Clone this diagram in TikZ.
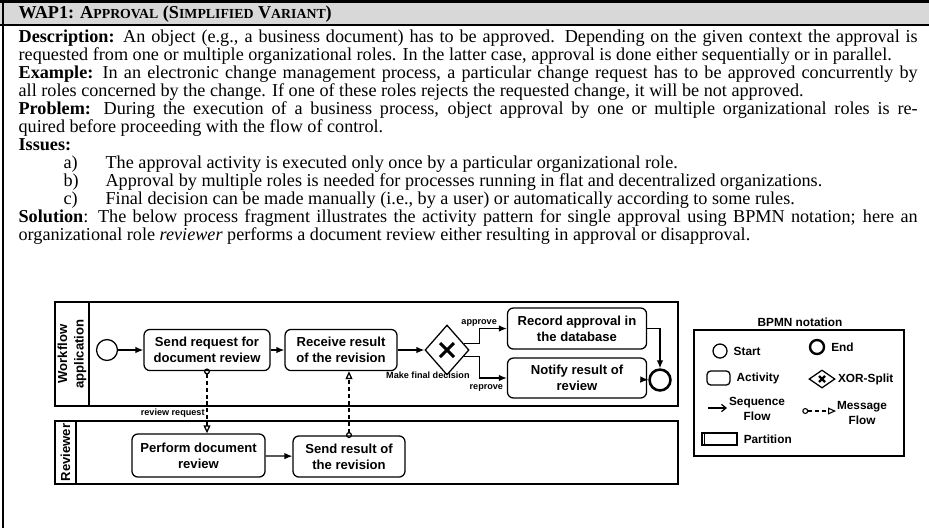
\documentclass[tikz,border=0pt]{standalone}
\usepackage{fontspec}
\setmainfont{Liberation Serif}
\newfontfamily\arialfont{Liberation Sans}
\usetikzlibrary{arrows.meta,shapes.geometric,positioning,calc}
\setlength{\parindent}{0pt}
\newcommand\smcap[1]{{\fontsize{7.6}{9}\selectfont #1}}
\newcommand\bodyfont{\fontsize{10}{9.9}\selectfont}
\newcommand\boxfont{\arialfont\bfseries\fontsize{7.2}{9}\selectfont}
\newcommand\lanefont{\arialfont\bfseries\fontsize{7.2}{9}\selectfont}
\newcommand\lblfont{\arialfont\bfseries\fontsize{5}{6}\selectfont}
\newcommand\legfont{\arialfont\bfseries\fontsize{6.5}{7.9}\selectfont}
\definecolor{headgray}{RGB}{216,216,216}
\tikzset{
  every picture/.style={
    line width=0.7pt, x=0.55pt, y=-0.55pt,
    >={Latex[width=3.6pt, length=4.4pt]}
  },
  bodytext/.style={
    anchor=north west, text width=494.5pt, align=justify,
    inner sep=0pt, font=\bodyfont
  },
  lane/.style={line width=0.85pt},
  lanelbl/.style={rotate=90, align=center, font=\lanefont, inner sep=0pt},
  task/.style={
    draw, rounded corners=3.3pt, align=center, font=\boxfont,
    inner sep=0pt, minimum height=22.6pt
  },
  startev/.style={draw, circle, minimum size=11.5pt, inner sep=0pt},
  endev/.style={draw, circle, line width=1.4pt, minimum size=11.5pt, inner sep=0pt},
  gateway/.style={
    draw, diamond, minimum width=24.2pt, minimum height=27.5pt,
    inner sep=0pt
  },
  xmark/.style={line width=1.6pt},
  seq/.style={->},
  msg/.style={
    dash pattern=on 2.2pt off 1.6pt, shorten <=-1.5pt,
    {Circle[open, length=3.3pt, width=3.3pt]}-{Triangle[open, length=4.4pt, width=3.8pt]}
  },
  lbl/.style={font=\lblfont, inner sep=1pt},
  legtxt/.style={font=\legfont, inner sep=0pt}
}
\begin{document}
\begin{tikzpicture}
  \useasboundingbox (0,0) rectangle (929,528);
  % table frame
  \fill[headgray] (0,3) rectangle (929,24);
  \draw[line width=1.6pt] (0,1.5) -- (929,1.5);
  \draw[line width=1.2pt] (0,25) -- (929,25);
  \draw[line width=1.6pt] (3,0) -- (3,528);
  \node[anchor=base west, font=\bfseries, inner sep=0pt] (title) at (18,18)
    {WAP1: A\smcap{PPROVAL} (S\smcap{IMPLIFIED} V\smcap{ARIANT})};
  \node[bodytext] (body) at (18,29) {%
    \textbf{Description:} An object (e.g., a business document) has to be approved. Depending on the given context the approval is\linebreak
    requested from one or multiple organizational roles. In the latter case, approval is done either sequentially or in parallel.\par
    \textbf{Example:} In an electronic change management process, a particular change request has to be approved concurrently by\linebreak
    all roles concerned by the change. If one of these roles rejects the requested change, it will be not approved.\par
    \textbf{Problem:} During the execution of a business process, object approval by one or multiple organizational roles is re-\linebreak
    quired before proceeding with the flow of control.\par
    \textbf{Issues:}\par
    \hspace*{24.75pt}\makebox[23.1pt][l]{a)}The approval activity is executed only once by a particular organizational role.\par
    \hspace*{24.75pt}\makebox[23.1pt][l]{b)}Approval by multiple roles is needed for processes running in flat and decentralized organizations.\par
    \hspace*{24.75pt}\makebox[23.1pt][l]{c)}Final decision can be made manually (i.e., by a user) or automatically according to some rules.\par
    \textbf{Solution}: The below process fragment illustrates the activity pattern for single approval using BPMN notation; here an\linebreak
    organizational role \textit{reviewer} performs a document review either resulting in approval or disapproval.};

  % pools and lanes
  \draw[lane] (55,302) rectangle (678,406);
  \draw[lane] (89,302) -- (89,406);
  \draw[lane] (55,421) rectangle (678,484);
  \draw[lane] (76,421) -- (76,484);
  \node[lanelbl] (wflane) at (72,354) {Workflow\\application};
  \node[lanelbl] (rvlane) at (65.5,452.5) {Reviewer};

  % process
  \node[startev] (start) at (107,350) {};
  \node[task, minimum width=69.3pt] (sendreq) at (207,350) {Send request for\\document review};
  \node[task, minimum width=61.6pt] (recv) at (341,350) {Receive result\\of the revision};
  \node[gateway, label={[lbl, label distance=-3.5pt, xshift=-10.5pt]below:Make final decision}] (gw) at (447,350) {};
  \draw[xmark] ($(gw)+(-7,-7)$) -- ($(gw)+(7,7)$);
  \draw[xmark] ($(gw)+(-7,7)$) -- ($(gw)+(7,-7)$);
  \node[task, minimum width=76.5pt] (record) at (577,328.5) {Record approval in\\the database};
  \node[task, minimum width=76.5pt, minimum height=22pt] (notify) at (577,378) {Notify result of\\review};
  \node[endev] (end) at (660,380) {};
  \node[task, minimum width=73.2pt, minimum height=23.7pt] (perform) at (198.5,455.5) {Perform document\\review};
  \node[task, minimum width=61.6pt] (sendres) at (349,456.5) {Send result of\\the revision};

  \draw[seq] (start) -- (sendreq);
  \draw[seq] (sendreq) -- (recv);
  \draw[seq] (recv) -- (gw);
  \draw[seq] (gw.20) -- ++(15,0) |- (record.west) node[lbl, pos=0.5, above] {approve};
  \draw[seq] (gw.-20) -- ++(15,0) |- (notify.west) node[lbl, pos=0.63, below=2pt] {reprove};
  \draw[seq] (record) -| (end);
  \draw[seq] (notify) -- (end);
  \draw[seq] (perform) -- (sendres);
  \draw[msg] (sendreq.south) -- (sendreq.south |- perform.north)
    node[lbl, pos=0.67, left] {review request};
  \draw[msg] (sendres.north) -- (sendres.north |- recv.south);

  % legend
  \node[legtxt] (legtitle) at (800,322) {BPMN notation};
  \node[draw, minimum width=115.5pt, minimum height=69.3pt, inner sep=0pt] (legend) at (799,393) {};
  \node[startev, minimum size=7.7pt] (lstart) at (720,351) {};
  \node[legtxt, right=3pt of lstart] (lstartlbl) {Start};
  \node[endev, line width=1.3pt, minimum size=7.7pt] (lend) at (817,347) {};
  \node[legtxt, right=3pt of lend] (lendlbl) {End};
  \node[draw, rounded corners=2pt, minimum width=12.6pt, minimum height=7.7pt, inner sep=0pt] (lact) at (718.5,378) {};
  \node[legtxt, right=3pt of lact] (lactlbl) {Activity};
  \node[gateway, minimum width=14.3pt, minimum height=9.9pt] (lxor) at (822,379) {};
  \draw[line width=1.3pt] ($(lxor)+(-3,-3)$) -- ($(lxor)+(3,3)$);
  \draw[line width=1.3pt] ($(lxor)+(-3,3)$) -- ($(lxor)+(3,-3)$);
  \node[legtxt, right=1pt of lxor] (lxorlbl) {XOR-Split};
  \coordinate (lseqa) at (708,408);
  \coordinate (lseqb) at (727,408);
  \draw[-{Straight Barb[length=2.5pt, width=4pt]}] (lseqa) -- (lseqb);
  \node[legtxt, align=center] (lseqlbl) at (757,409) {Sequence\\Flow};
  \coordinate (lmsga) at (805,411);
  \coordinate (lmsgb) at (836,411);
  \draw[msg, line width=0.6pt] (lmsga) -- (lmsgb);
  \node[legtxt, align=center] (lmsglbl) at (862,413) {Message\\Flow};
  \node[draw, minimum width=19.3pt, minimum height=6.6pt, inner sep=0pt] (lpart) at (719.5,439) {};
  \draw ($(lpart.north west)+(3,0)$) -- ($(lpart.south west)+(3,0)$);
  \node[legtxt, right=3pt of lpart] (lpartlbl) {Partition};
\end{tikzpicture}
\end{document}
